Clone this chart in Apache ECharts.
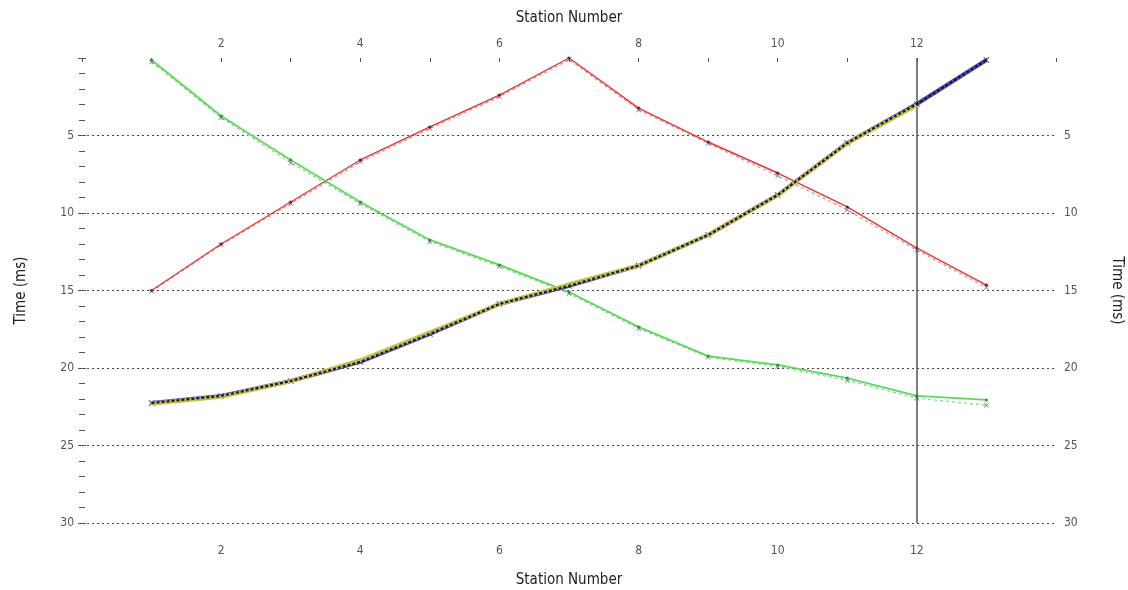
<!DOCTYPE html>
<html>
<head>
<meta charset="utf-8">
<script src="https://cdn.jsdelivr.net/npm/echarts@6/dist/echarts.min.js"></script>
<style>html,body{margin:0;padding:0;background:#fff}#c{width:1128px;height:590px}</style>
</head>
<body>
<div id="c"></div>
<script>
const stations = [1,2,3,4,5,6,7,8,9,10,11,12,13];
const redObs   = [15.0,12.0,9.29,6.58,4.45,2.39,0.0,3.23,5.42,7.42,9.61,12.26,14.65];
const redMod   = [15.05,12.05,9.4,6.7,4.55,2.5,0.1,3.35,5.5,7.6,9.8,12.4,14.8];
const greenObs = [0.13,3.74,6.58,9.29,11.74,13.35,15.1,17.35,19.23,19.8,20.65,21.8,22.06];
const greenMod = [0.25,3.85,6.75,9.4,11.85,13.45,15.2,17.45,19.3,19.9,20.8,21.95,22.4];
const blueObs  = [22.26,21.8,20.84,19.6,17.8,15.87,14.7,13.4,11.42,8.84,5.48,2.97,0.13];
const yellowMod= [22.3,21.85,20.85,19.5,17.7,15.87,14.6,13.4,11.42,8.86,5.5,3.05,null];
const xTicks = [2,4,6,8,10,12];
const yTicks = [5,10,15,20,25,30];
const markerStation = 12;

const pair = a => stations.map((s,i)=>[s,a[i]]);
const font = "'Liberation Sans Narrow','DejaVu Sans Condensed','Liberation Sans',sans-serif";
const xMark = 'path://M0,1L1,0L5,4L9,0L10,1L6,5L10,9L9,10L5,6L1,10L0,9L4,5Z';

const xBase = {
  type:'value', min:0, max:14, interval:1,
  nameLocation:'middle', name:'Station Number',
  nameTextStyle:{fontFamily:font,fontSize:15,color:'#222'},
  axisLine:{show:false},
  axisTick:{show:true,length:4,lineStyle:{color:'#555',width:1}},
  axisLabel:{fontFamily:font,fontSize:12,color:'#555',
    formatter:v=>xTicks.indexOf(v)>=0?String(v):''},
  splitLine:{show:false}
};
const yBase = {
  type:'value', min:0, max:30, interval:5, inverse:true,
  nameLocation:'middle', name:'Time (ms)',
  nameTextStyle:{fontFamily:font,fontSize:15,color:'#222'},
  axisLine:{show:false},
  axisTick:{show:true,inside:true,length:4,lineStyle:{color:'#555'}},
  minorTick:{show:true,splitNumber:5,length:3,lineStyle:{color:'#555'}},
  axisLabel:{fontFamily:font,fontSize:12,color:'#555',
    formatter:v=>yTicks.indexOf(v)>=0?String(v):''},
};

const option = {
  animation:false,
  backgroundColor:'#fff',
  grid:{left:82,right:72,top:58,bottom:67,outerBoundsMode:'none',containLabel:false},
  xAxis:[
    Object.assign({},xBase,{position:'bottom',offset:10,nameGap:40,
      axisLabel:Object.assign({},xBase.axisLabel,{margin:12})}),
    Object.assign({},xBase,{position:'top',nameGap:32,
      axisTick:{show:true,inside:true,length:4,lineStyle:{color:'#555'}},
      axisLabel:Object.assign({},xBase.axisLabel,{margin:8})})
  ],
  yAxis:[
    Object.assign({},yBase,{position:'left',nameGap:53,nameRotate:90,
      axisLabel:Object.assign({},yBase.axisLabel,{margin:8}),
      splitLine:{show:true,showMinLine:false,showMaxLine:true,lineStyle:{color:'#444',type:[2,3],width:1.2}}}),
    Object.assign({},yBase,{position:'right',nameGap:53,nameRotate:-90,
      axisLabel:Object.assign({},yBase.axisLabel,{margin:8}),
      splitLine:{show:false}})
  ],
  series:[
    {type:'line',data:pair(redMod),lineStyle:{color:'#f08080',width:1.2,type:[3,3]},
      symbol:xMark,symbolSize:5,itemStyle:{color:'#6a6ab0'},z:2},
    {type:'line',data:pair(redObs),lineStyle:{color:'#e03838',width:1.4},
      symbol:'circle',symbolSize:3,itemStyle:{color:'#702030'},z:3},
    {type:'line',data:pair(greenMod),lineStyle:{color:'#7ed87e',width:1.2,type:[3,3]},
      symbol:xMark,symbolSize:5,itemStyle:{color:'#6a6ab0'},z:2},
    {type:'line',data:pair(greenObs),lineStyle:{color:'#5ed65e',width:1.8},
      symbol:'circle',symbolSize:3,itemStyle:{color:'#3a8a3a'},z:3},
    {type:'line',data:pair(blueObs),lineStyle:{color:'#4848c0',width:4},
      symbol:xMark,symbolSize:6,itemStyle:{color:'#333388'},z:4},
    {type:'line',data:pair(yellowMod),lineStyle:{color:'#c4c050',width:4},
      symbol:'none',z:5},
    {type:'line',data:pair(blueObs),lineStyle:{color:'#1a1a1a',width:2.2,type:[3,2]},
      symbol:'none',z:6,
      markLine:{silent:true,symbol:'none',label:{show:false},
        lineStyle:{color:'#555',width:1.5,type:'solid'},
        data:[{xAxis:markerStation}]}}
  ]
};
const chart = echarts.init(document.getElementById('c'),null,{renderer:'canvas'});
chart.setOption(option);
</script>
</body>
</html>
